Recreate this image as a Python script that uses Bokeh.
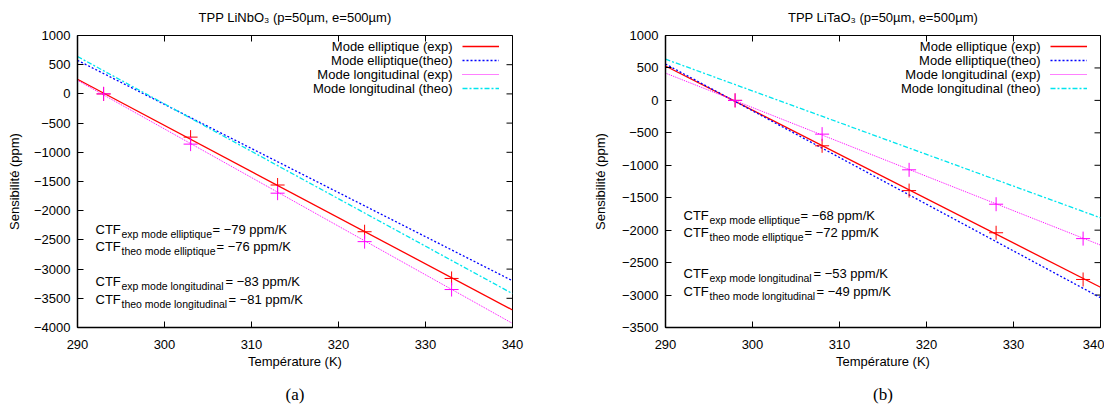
import math
from bokeh.plotting import figure
from bokeh.models import Range1d, FixedTicker, Label, Legend, LegendItem, LinearAxis
from bokeh.layouts import row
from bokeh.embed import file_html
from bokeh.resources import INLINE

FONT = "Liberation Sans"

# ---------------- data ----------------
T_fit = [290, 340]

nb_T = [293, 303, 313, 323, 333]
nb_ell_exp_pts = [0, -740, -1560, -2360, -3160]
nb_long_exp_pts = [0, -860, -1700, -2530, -3350]
nb_ell_exp_fit = [250, -3700]
nb_ell_theo = [575, -3200]
nb_long_exp_fit = [232, -3930]
nb_long_theo = [640, -3420]

ta_T = [298, 308, 318, 328, 338]
ta_ell_exp_pts = [0, -700, -1390, -2040, -2760]
ta_long_exp_pts = [0, -520, -1070, -1600, -2130]
ta_ell_exp_fit = [530, -2880]
ta_ell_theo = [560, -3040]
ta_long_exp_fit = [420, -2230]
ta_long_theo = [635, -1810]

x_ticks = [290, 300, 310, 320, 330, 340]
nb_y_ticks = [1000, 500, 0, -500, -1000, -1500, -2000, -2500, -3000, -3500, -4000]
ta_y_ticks = [1000, 500, 0, -500, -1000, -1500, -2000, -2500, -3000, -3500]

legend_labels = ["Mode elliptique (exp)", "Mode elliptique(theo)",
                 "Mode longitudinal (exp)", "Mode longitudinal (theo)"]
ctf_subs = ["exp mode elliptique", "theo mode elliptique",
            "exp mode longitudinal", "theo mode longitudinal"]
nb_ctf = ["\u221279", "\u221276", "\u221283", "\u221281"]
ta_ctf = ["\u221268", "\u221272", "\u221253", "\u221249"]

nb_title = "TPP LiNbO\u2083 (p=50\u00b5m, e=500\u00b5m)"
ta_title = "TPP LiTaO\u2083 (p=50\u00b5m, e=500\u00b5m)"
x_label = "Temp\u00e9rature (K)"
y_label = "Sensibilit\u00e9 (ppm)"

RED, BLUE, MAG, CYAN = "#ff0000", "#0000ff", "#ff00ff", "#00e5ee"


def fmt(v):
    return str(v).replace("-", "\u2212")


def style_axis(ax, ticks):
    ax.ticker = FixedTicker(ticks=ticks)
    ax.major_tick_in = 6
    ax.major_tick_out = 0
    ax.minor_tick_in = 0
    ax.minor_tick_out = 0
    ax.axis_line_color = "black"
    ax.axis_line_width = 1.5
    ax.major_tick_line_color = "black"
    ax.major_tick_line_width = 1
    ax.major_label_text_font = FONT
    ax.major_label_text_font_size = "13px"
    ax.major_label_text_color = "black"
    ax.major_label_overrides = {t: fmt(t) for t in ticks}
    ax.axis_label_text_font = FONT
    ax.axis_label_text_font_size = "13px"
    ax.axis_label_text_font_style = "normal"
    ax.axis_label_text_color = "black"


def panel(title, width, left_border, ymin, yticks, T, ell_pts, long_pts,
          ell_fit, ell_theo, long_fit, long_theo, ctf_vals, ctf_bases,
          ylab_standoff, caption):
    p = figure(width=width, height=406, output_backend="svg", toolbar_location=None,
               x_range=Range1d(290, 340), y_range=Range1d(ymin, 1000),
               min_border_left=left_border, min_border_right=(width - left_border - 435),
               min_border_top=35, min_border_bottom=78)
    p.xgrid.visible = False
    p.ygrid.visible = False
    p.outline_line_color = "black"
    p.outline_line_width = 1
    p.background_fill_color = "white"
    p.border_fill_color = "white"

    p.title.text = title
    p.title.align = "center"
    p.title.vertical_align = "top"
    p.title.text_font = FONT
    p.title.text_font_size = "13px"
    p.title.text_font_style = "normal"
    p.title.text_color = "black"
    p.title.standoff = 18

    style_axis(p.xaxis[0], x_ticks)
    style_axis(p.yaxis[0], yticks)
    p.xaxis[0].major_label_standoff = 12
    p.yaxis[0].major_label_standoff = 7
    p.xaxis[0].axis_label = x_label
    p.yaxis[0].axis_label = y_label
    p.xaxis[0].axis_label_standoff = 2
    p.yaxis[0].axis_label_standoff = ylab_standoff

    # sub-figure caption, as the label of a tick-less second bottom axis
    cap = LinearAxis(ticker=FixedTicker(ticks=[]), axis_label=caption,
                     axis_label_text_font="Liberation Serif",
                     axis_label_text_font_size="17px",
                     axis_label_text_font_style="normal",
                     axis_label_text_color="black", axis_label_standoff=13,
                     axis_line_color=None, major_tick_line_color=None,
                     minor_tick_line_color=None, major_label_standoff=0,
                     major_tick_in=0, major_tick_out=0,
                     minor_tick_in=0, minor_tick_out=0)
    p.add_layout(cap, "below")

    # mirror ticks (top and right, pointing inward; clipped by the frame)
    p.scatter(x_ticks, [1000] * len(x_ticks), marker="dash", angle=math.pi / 2,
              size=12, line_color="black", line_width=1)
    p.scatter([340] * len(yticks), yticks, marker="dash", size=12,
              line_color="black", line_width=1)

    r1 = p.line(T_fit, ell_fit, line_color=RED, line_width=1.3)
    r2 = p.line(T_fit, ell_theo, line_color=BLUE, line_width=1.3, line_dash="2 2")
    r3 = p.line(T_fit, long_fit, line_color=MAG, line_width=1, line_dash="1 1")
    r4 = p.line(T_fit, long_theo, line_color=CYAN, line_width=1.3, line_dash="5 2 2 2")
    p.scatter(T, ell_pts, marker="cross", size=14, line_color=RED, line_width=1)
    p.scatter(T, long_pts, marker="cross", size=14, line_color=MAG, line_width=1)

    legend = Legend(items=[LegendItem(label=" ", renderers=[r]) for r in (r1, r2, r3, r4)],
                    location="top_right", glyph_width=37, glyph_height=14,
                    label_text_font_size="8px", label_standoff=9, label_width=0,
                    label_height=14, padding=0, spacing=0, margin=4,
                    border_line_alpha=0, background_fill_alpha=0)
    p.add_layout(legend)
    for i, txt in enumerate(legend_labels):
        p.add_layout(Label(x=340, y=1000, x_offset=-60, y_offset=-(11 + 14 * i), text=txt,
                           text_align="right", text_baseline="middle",
                           text_font=FONT, text_font_size="13px", text_color="black"))

    eq_offsets = [135, 139, 148, 151]
    for k in range(4):
        base = ctf_bases[k]
        p.add_layout(Label(x=290, y=ymin, x_offset=18, y_offset=base, text="CTF",
                           text_baseline="alphabetic", text_font=FONT,
                           text_font_size="13px", text_color="black"))
        p.add_layout(Label(x=290, y=ymin, x_offset=44, y_offset=base - 4, text=ctf_subs[k],
                           text_baseline="alphabetic", text_font=FONT,
                           text_font_size="10.5px", text_color="black"))
        p.add_layout(Label(x=290, y=ymin, x_offset=eq_offsets[k], y_offset=base,
                           text="= " + ctf_vals[k] + " ppm/K",
                           text_baseline="alphabetic", text_font=FONT,
                           text_font_size="13px", text_color="black"))
    return p


p1 = panel(nb_title, 580, 77, -4000, nb_y_ticks, nb_T, nb_ell_exp_pts, nb_long_exp_pts,
           nb_ell_exp_fit, nb_ell_theo, nb_long_exp_fit, nb_long_theo, nb_ctf,
           [98, 81, 46, 28], 9, "(a)")
p2 = panel(ta_title, 524, 85, -3500, ta_y_ticks, ta_T, ta_ell_exp_pts, ta_long_exp_pts,
           ta_ell_exp_fit, ta_ell_theo, ta_long_exp_fit, ta_long_theo, ta_ctf,
           [112, 95, 54, 36], 11, "(b)")

layout = row(p1, p2)
open("out.html", "w").write(file_html(layout, INLINE))
